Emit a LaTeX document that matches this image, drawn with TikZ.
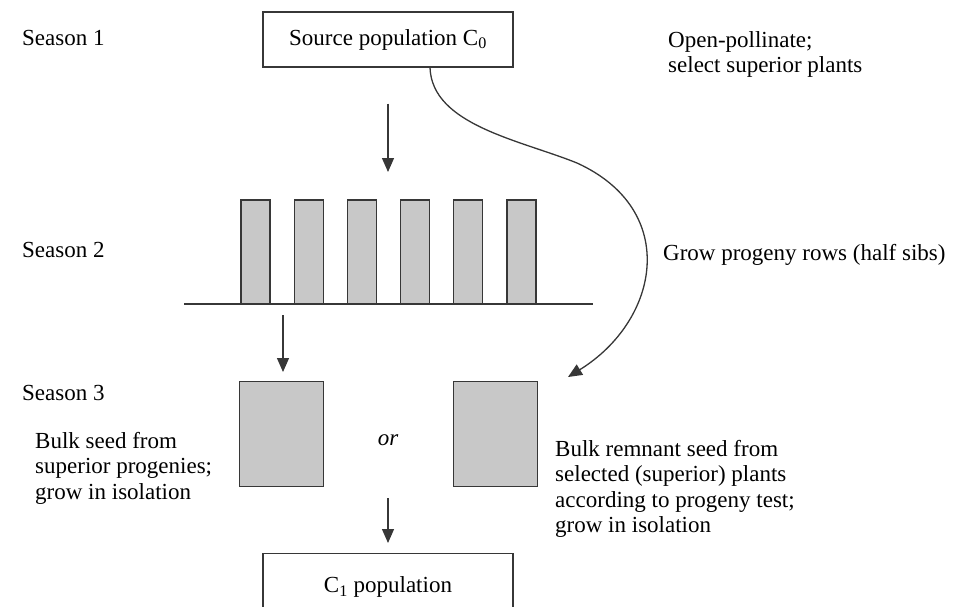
\documentclass[tikz,border=0pt]{standalone}
\usepackage{fontspec}
\setmainfont{Liberation Serif}
\usepackage{tikz}
\usetikzlibrary{arrows.meta,positioning}
\definecolor{rowgray}{RGB}{200,200,200}
\definecolor{linegray}{RGB}{55,55,55}

\begin{document}
\begin{tikzpicture}[x=1pt,y=-1pt,
  every node/.style={font=\fontsize{23}{25.5}\selectfont},
  box/.style={draw=linegray,line width=1.3pt,minimum width=250pt,inner sep=0pt},
  plot/.style={fill=rowgray,draw=linegray,line width=1.3pt},
  lbl/.style={inner sep=0pt,align=left},
  arr/.style={draw=linegray,line width=1.3pt,-{Triangle[length=14pt,width=12pt]}}]
\useasboundingbox (0,0) rectangle (976,606);
\clip (0,0) rectangle (976,606);
% season 1
\node[lbl,anchor=base west] (s1) at (22,45) {Season 1};
\node[box,minimum height=55pt] (src) at (388,39.5) {Source population C\textsubscript{0}};
\node[lbl,anchor=north west] (openpol) at (668,31) {Open-pollinate;\\select superior plants};
% season 2
\node[lbl,anchor=base west] (s2) at (22,257) {Season 2};
\node[lbl,anchor=base west] (grow) at (663,260) {Grow progeny rows (half sibs)};
\foreach \i in {0,...,5}
  \filldraw[plot] ({241+53.2*\i},200) rectangle ++(29,104);
\draw[draw=linegray,line width=1.3pt] (184,304) coordinate (rowL) -- (593,304) coordinate (rowR);
\coordinate (rowtop) at (388,200);
% season 3
\node[lbl,anchor=base west] (s3) at (22,400) {Season 3};
\node[plot,minimum width=84pt,minimum height=105pt,inner sep=0pt,anchor=north west] (bulkL) at (239,381) {};
\node[plot,minimum width=84pt,minimum height=105pt,inner sep=0pt,anchor=north west] (bulkR) at (453,381) {};
\node (or) at (388,440) {\itshape or};
\node[lbl,anchor=north west] (leftnote) at (35,432) {Bulk seed from\\superior progenies;\\grow in isolation};
\node[lbl,anchor=north west] (rightnote) at (555,440) {Bulk remnant seed from\\selected (superior) plants\\according to progeny test;\\grow in isolation};
\node[box,minimum height=67pt,anchor=north] (pop1) at (388,553) {C\textsubscript{1} population};
\coordinate (curvetip) at (568,377);
% connectors
\draw[arr,shorten <=36pt,shorten >=28pt] (src.south) -- (rowtop);
\draw[arr,shorten <=11pt,shorten >=9pt] (rowL -| 283,0) -- (bulkL.north -| 283,0);
\draw[arr,shorten <=11pt,shorten >=10pt] (bulkL.south -| 388,0) -- (pop1.north);
\draw[arr] (src.south -| 430,0) .. controls (432,125) and (520,140) .. (577,163)
  .. controls (680,210) and (660,320) .. (curvetip);
\end{tikzpicture}
\end{document}
